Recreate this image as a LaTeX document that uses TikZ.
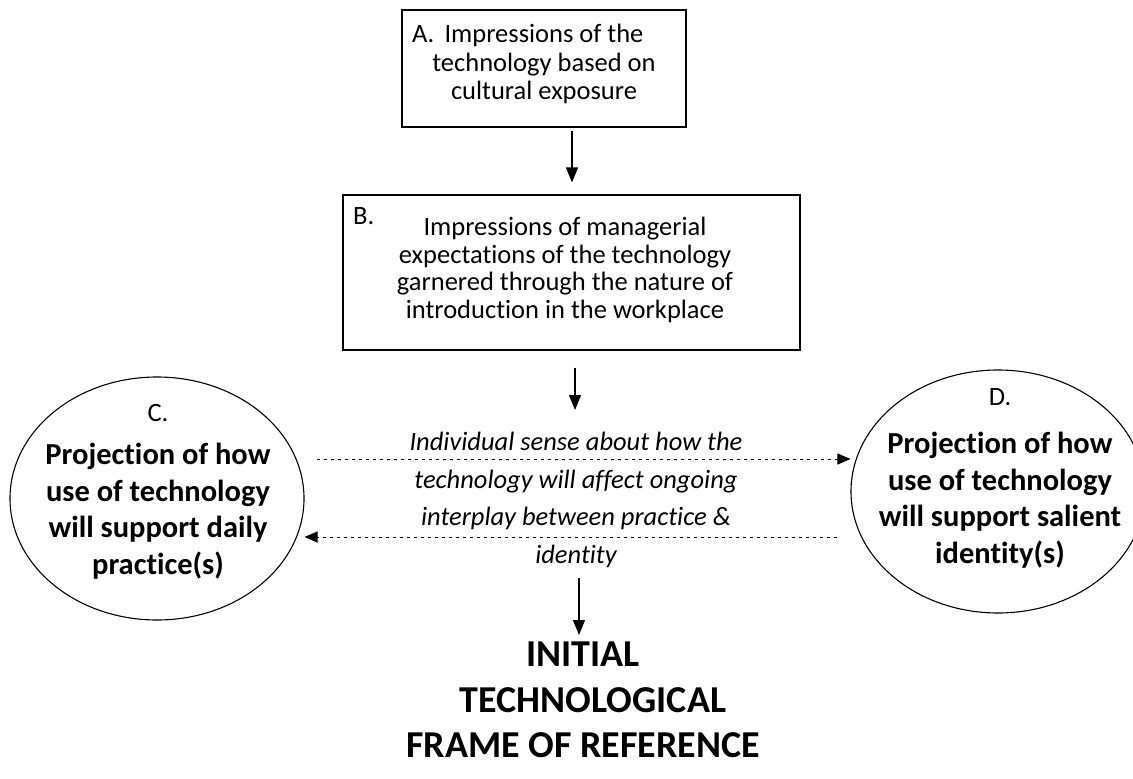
\documentclass[tikz,border=0pt]{standalone}
\usepackage{fontspec}
\setmainfont{Carlito}[Ligatures={NoCommon}]
\usetikzlibrary{shapes.geometric,arrows.meta}
\begin{document}
\begin{tikzpicture}[x=1pt,y=-1pt,
  box/.style={draw,line width=1.1pt,rectangle,inner sep=0pt},
  oval/.style={draw,line width=1.1pt,ellipse,inner sep=0pt},
  boxtext/.style={align=center,inner sep=0pt,font=\fontsize{26.5}{28.5}\selectfont},
  lettr/.style={inner sep=0pt,font=\fontsize{26.5}{28}\selectfont},
  ovlab/.style={inner sep=0pt,font=\fontsize{26.5}{30}\selectfont},
  ovtext/.style={align=center,inner sep=0pt,font=\bfseries\fontsize{30.5}{36.5}\selectfont},
  midtext/.style={align=center,inner sep=0pt,font=\itshape\fontsize{26.5}{37.7}\selectfont},
  frametext/.style={align=center,inner sep=0pt,font=\bfseries\fontsize{38}{45.5}\selectfont},
  arr/.style={-{Triangle[length=15pt,width=12pt]},line width=1.3pt},
  dotarr/.style={-{Triangle[length=13pt,width=11pt]},line width=0.8pt,dash pattern=on 3pt off 4pt}
]
\fill[white] (0,0) rectangle (1133,779);
\useasboundingbox (0,0) rectangle (1133,779);

% boxes
\node[box,minimum width=284pt,minimum height=117pt] (A) at (544,68.5) {};
\node[boxtext] (Atext) at (544,64) {Impressions of the\\technology based on\\cultural exposure};
\node[lettr,anchor=west] (Alab) at (412,34) {A.};

\node[box,minimum width=457pt,minimum height=155pt] (B) at (571.5,272.5) {};
\node[boxtext,font=\fontsize{26.5}{27.5}\selectfont] (Btext) at (565,270) {Impressions of managerial\\expectations of the technology\\garnered through the nature of\\introduction in the workplace};
\node[lettr,anchor=west] (Blab) at (353,216) {B.};

% ellipses
\node[oval,minimum width=294pt,minimum height=243pt] (C) at (157,498.5) {};
\node[ovlab] (Clab) at (158,413) {C.};
\node[ovtext] (Ctext) at (158,511) {Projection of how\\use of technology\\will support daily\\practice(s)};

\node[oval,minimum width=294pt,minimum height=243pt] (D) at (998,491.5) {};
\node[ovlab] (Dlab) at (1000,397) {D.};
\node[ovtext] (Dtext) at (1000,500) {Projection of how\\use of technology\\will support salient\\identity(s)};

% middle text
\node[midtext] (mid) at (576,500) {Individual sense about how the\\technology will affect ongoing\\interplay between practice \&\\identity};

% final text
\node[frametext] (frame) at (583,700) {INITIAL\\\hspace*{20pt}TECHNOLOGICAL\\FRAME OF REFERENCE};

% arrows
\coordinate (ax) at (572,0);
\draw[arr,shorten <=3pt,shorten >=12pt] (A.south -| ax) -- (B.north -| ax);
\coordinate (b1) at (575,410);
\draw[arr,shorten <=17pt] (B.south -| b1) -- (b1);
\coordinate (m2) at (579,578);
\coordinate (m3) at (579,635);
\draw[arr] (m2) -- (m3);

% dotted arrows
\coordinate (dl) at (317,459);
\draw[dotarr] (dl) -- (dl -| D.west);
\coordinate (dr) at (837,537);
\draw[dotarr] (dr) -- (dr -| C.east);
\end{tikzpicture}
\end{document}
